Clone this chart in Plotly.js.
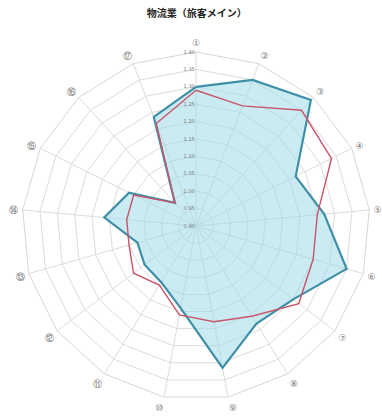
<!DOCTYPE html>
<html>
<head>
<meta charset="utf-8">
<script src="https://cdn.plot.ly/plotly-3.0.1.min.js"></script>
<style>
  html, body { margin: 0; padding: 0; background: #fff; }
  #chart { width: 382px; height: 417px; }
</style>
</head>
<body>
<div id="chart"></div>
<script>
// Axis labels (17 indicators)
const axes = ['①','②','③','④','⑤','⑥','⑦','⑧','⑨','⑩','⑪','⑫','⑬','⑭','⑮','⑯','⑰'];

// Company score (filled polygon)
const companyValues = [1.30, 1.35, 1.39, 1.22, 1.27, 1.35, 1.25, 1.23, 1.315, 1.14, 1.09, 1.085, 1.075, 1.165, 1.115, 0.99, 1.236];

// Industry benchmark (red line)
const industryValues = [1.29, 1.27, 1.35, 1.335, 1.25, 1.25, 1.27, 1.205, 1.18, 1.16, 1.10, 1.125, 1.10, 1.10, 1.10, 0.99, 1.216];

// Radial scale
const radialRange = [0.90, 1.40];
const radialStep = 0.05;

const close = arr => arr.concat([arr[0]]);

const traces = [
  {
    type: 'scatterpolar',
    r: close(companyValues),
    theta: close(axes),
    mode: 'lines',
    fill: 'toself',
    fillcolor: 'rgba(160,218,232,0.55)',
    line: { color: '#3f8fa6', width: 2.2 },
    hoverinfo: 'skip'
  },
  {
    type: 'scatterpolar',
    r: close(industryValues),
    theta: close(axes),
    mode: 'lines',
    line: { color: '#c9556b', width: 1.4 },
    hoverinfo: 'skip'
  }
];

const layout = {
  width: 382,
  height: 417,
  margin: { l: 0, r: 0, t: 0, b: 0 },
  paper_bgcolor: '#ffffff',
  showlegend: false,
  title: {
    text: '<b>物流業（旅客メイン）</b>',
    font: { family: 'Noto Sans CJK JP', size: 10, color: '#222' },
    x: 0.515, xanchor: 'center',
    y: 0.968, yanchor: 'middle'
  },
  polar: {
    domain: { x: [0.0576, 0.9686], y: [0.0408, 0.8753] },
    gridshape: 'linear',
    bgcolor: 'rgba(0,0,0,0)',
    angularaxis: {
      rotation: 90,
      direction: 'clockwise',
      gridcolor: '#dcdcdc',
      linecolor: '#d6d6d6',
      ticks: 'outside',
      ticklen: 2,
      tickcolor: 'rgba(0,0,0,0)',
      tickfont: { family: 'DejaVu Sans', size: 9, color: '#7a7a7a' }
    },
    radialaxis: {
      range: radialRange,
      dtick: radialStep,
      tick0: radialRange[0],
      tickformat: '.2f',
      angle: 90,
      tickangle: 90,
      side: 'counterclockwise',
      showline: false,
      ticks: '',
      gridcolor: '#dcdcdc',
      tickfont: { family: 'DejaVu Sans', size: 5, color: '#777' }
    }
  }
};

Plotly.newPlot('chart', traces, layout, { staticPlot: true, displayModeBar: false });
</script>
</body>
</html>
